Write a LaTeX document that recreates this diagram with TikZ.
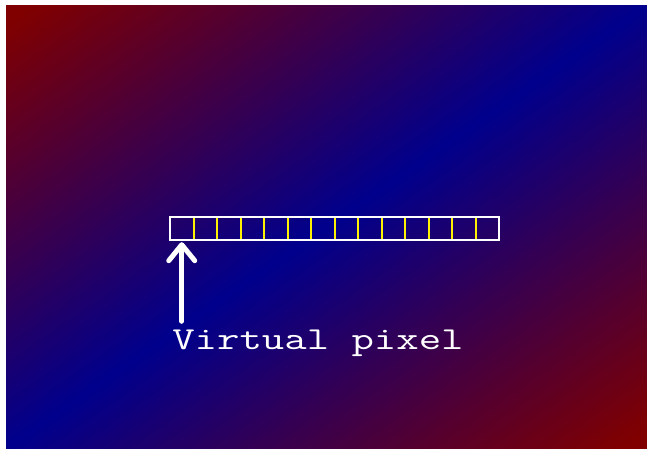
\documentclass[tikz,border=0pt]{standalone}
\usepackage{fontspec}
\usetikzlibrary{arrows.meta}
\colorlet{bgred}{red!50!black}
\colorlet{bgblue}{blue!55!black}
\pgfdeclareverticalshading{bgband}{100bp}{color(0bp)=(bgred); color(16bp)=(bgred);
  color(50bp)=(bgblue); color(84bp)=(bgred); color(100bp)=(bgred)}

\begin{document}
\begin{tikzpicture}[x=1pt, y=-1pt,
    cell/.style={minimum width=23.5pt, minimum height=23pt, inner sep=0pt},
    lbl/.style={text=white, font=\ttfamily\fontsize{32}{32}\selectfont, xscale=1.36, inner sep=0pt, anchor=base west},
    pointer/.style={white, line width=5pt, line cap=round, -{Straight Barb[round, length=16pt, width=26pt]}}]
  \useasboundingbox (0,0) rectangle (647,448);
  \begin{scope}[transform canvas={shift={(6,5)}, xscale=6.41, yscale=4.43}]
    \shade[shading=bgband, shading angle=45] (0,0) rectangle (100,100);
  \end{scope}

  \foreach \i in {1,...,14}
    \node[cell] (c\i) at (158.25+23.5*\i, 228.5) {};
  \foreach \i in {1,...,13}
    \draw[yellow, line width=2.2pt] (c\i.north east) -- (c\i.south east);
  \draw[white, line width=1.5pt] (c1.north west) rectangle (c14.south east);

  \node[lbl] (v) at (172,349) {Virtual pixel};
  \draw[pointer, shorten <=8pt, shorten >=2pt] (c1.south |- v.north) -- (c1.south);
\end{tikzpicture}
\end{document}
